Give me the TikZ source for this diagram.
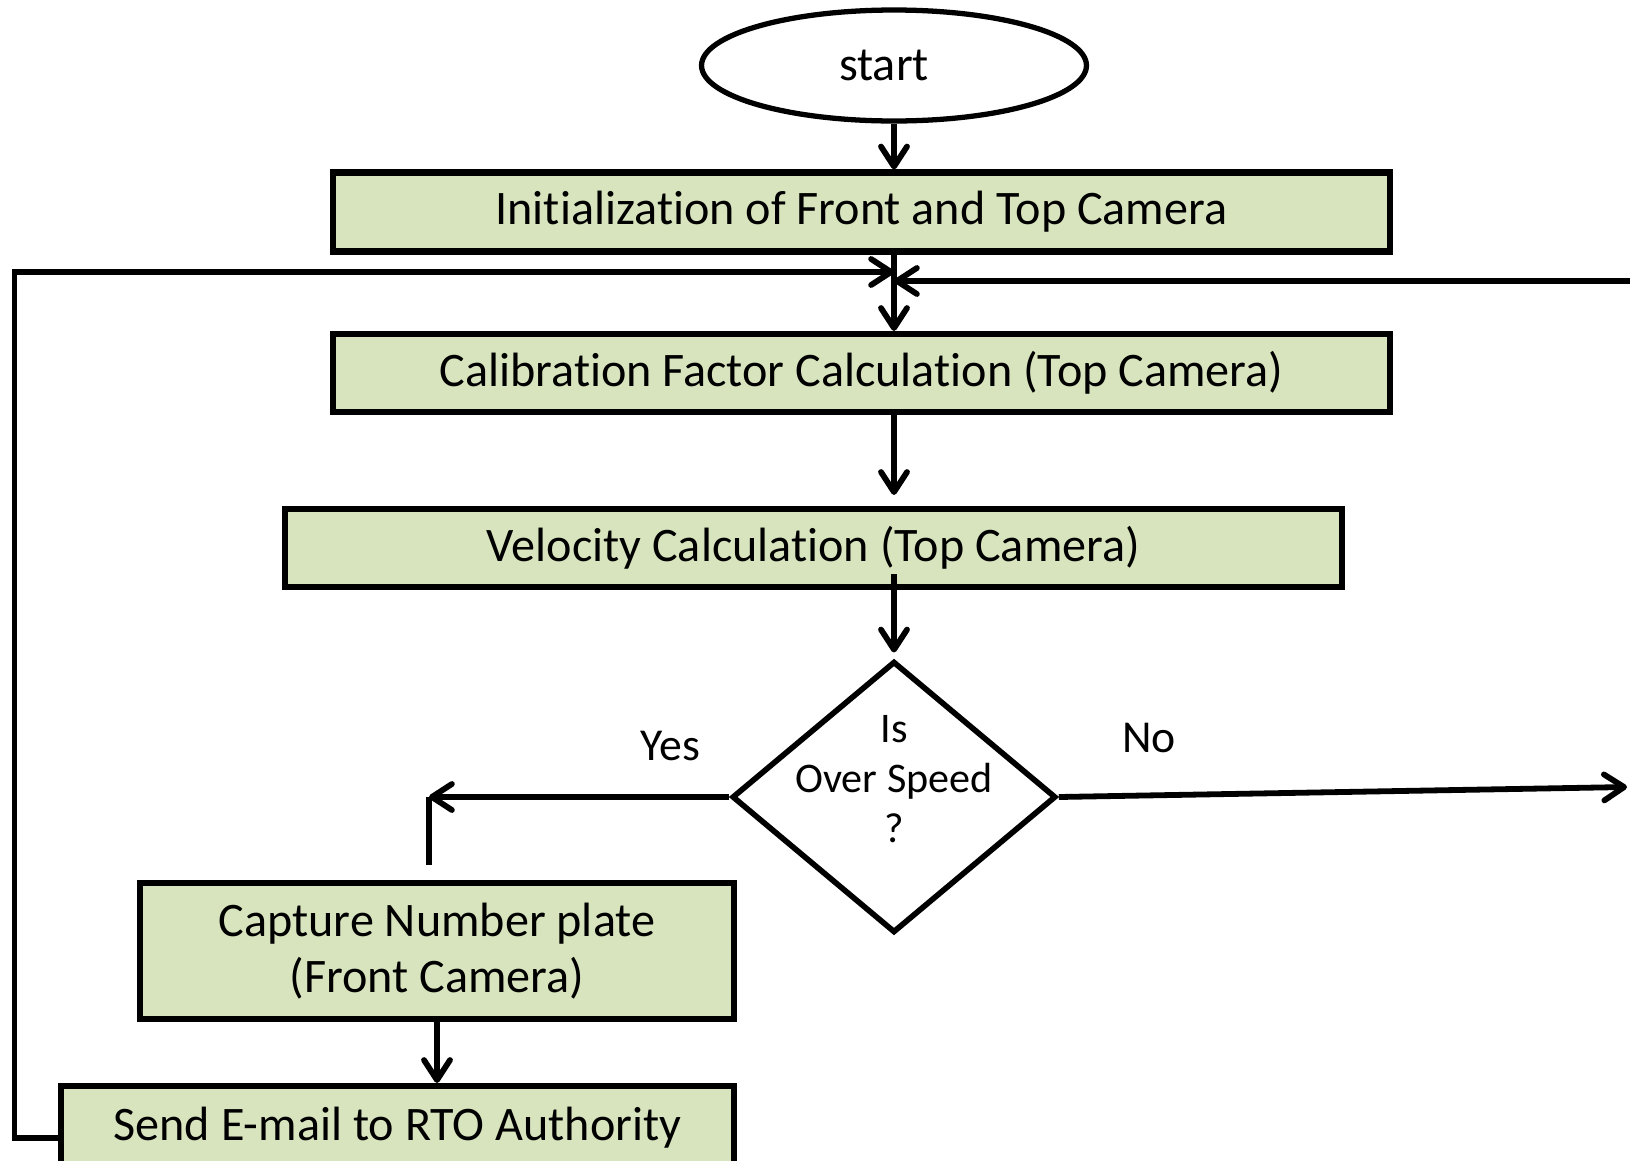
\documentclass[tikz,border=0pt]{standalone}
\usepackage{fontspec}
\setmainfont{Carlito}[Ligatures=NoCommon]
\usetikzlibrary{shapes.geometric,arrows.meta}
\definecolor{boxgreen}{RGB}{215,228,189}

\begin{document}
\begin{tikzpicture}[
      x=0.02cm, y=-0.02cm,
      terminal/.style={ellipse, draw, line width=3pt, minimum width=7.7cm, minimum height=2.22cm, inner sep=0pt, font=\fontsize{27.4}{32}\selectfont},
      process/.style={rectangle, draw, line width=3.5pt, fill=boxgreen, inner sep=0pt, align=center, font=\fontsize{27.4}{32}\selectfont},
      decision/.style={diamond, draw, line width=3.2pt, minimum width=6.48cm, minimum height=5.43cm, inner sep=0pt},
      answer/.style={font=\fontsize{26}{30}\selectfont},
      flow/.style={line width=3.3pt, -{Straight Barb[round, length=0.4cm, width=0.52cm]}},
      wire/.style={line width=3.3pt},
  ]
    \useasboundingbox (0,0) rectangle (1630,1160);
    \node[terminal] (start) at (894,65.5) {start\kern0.4cm};
    \node[process, minimum width=21.14cm, minimum height=1.58cm] (init) at (861.5,212) {Initialization of Front and Top Camera};
    \node[process, minimum width=21.14cm, minimum height=1.56cm] (calib) at (861.5,373) {Calibration Factor Calculation (Top Camera)};
    \node[process, minimum width=21.14cm, minimum height=1.56cm] (velocity) at (813.5,548) {Velocity Calculation (Top Camera)};
    \node[decision, label={[font=\fontsize{24}{28.4}\selectfont, align=center, yshift=0.36cm]center:Is\\Over Speed\\?}] (check) at (894,797) {};
    \node[process, minimum width=11.88cm, minimum height=2.71cm] (capture) at (437,951) {Capture Number plate\\(Front Camera)};
    \node[process, minimum width=13.46cm, minimum height=1.68cm] (send) at (397.5,1128) {Send E-mail to RTO Authority};
    \node[answer] (yes) at (670.5,746) {Yes};
    \node[answer] (no) at (1149,738) {No};
    \coordinate (yescorner) at (429,797);
    \coordinate (yesend) at (429,865);
    \coordinate (noend) at (1627,787);
    \coordinate (back) at (1640,281);
    \coordinate (loop) at (14.5,1138);
    \coordinate (loopin) at (894,272);
    \draw[flow] (start) -- (start |- init.north);
    \draw[flow] (start |- init.south) -- (start |- calib.north);
    \draw[flow, shorten >=0.22cm] (start |- calib.south) -- (start |- velocity.north);
    \draw[flow, shorten <=-0.32cm, shorten >=0.12cm] (start |- velocity.south) -- (check.north);
    \draw[flow] (check.west) -- (yescorner);
    \draw[wire] (yescorner) -- (yesend);
    \draw[flow] (check.east) -- (noend);
    \draw[flow] (capture) -- (capture |- send.north);
    \draw[flow] (send.west |- loop) -- (loop) |- (loopin);
    \draw[flow] (back) -- (start |- back);
  \end{tikzpicture}
\end{document}
